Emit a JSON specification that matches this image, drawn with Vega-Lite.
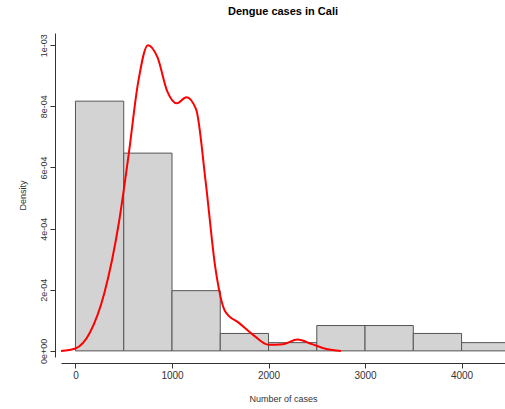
{
  "$schema": "https://vega.github.io/schema/vega-lite/v6.json",
  "width": 505,
  "height": 409,
  "autosize": {"type": "fit", "contains": "padding"},
  "background": "white",
  "padding": {"left": 18, "right": 0, "top": 6, "bottom": 6},
  "title": {"text": "Dengue cases in Cali", "fontSize": 11, "font": "Liberation Sans", "fontWeight": "bold", "color": "black", "offset": 16},
  "config": {"view": {"stroke": null}, "font": "Liberation Sans"},
  "layer": [
    {
      "data": {"values": [
        {"x0": 0, "x1": 500, "density": 0.000817, "base": 0},
        {"x0": 500, "x1": 1000, "density": 0.000647, "base": 0},
        {"x0": 1000, "x1": 1500, "density": 0.000197, "base": 0},
        {"x0": 1500, "x1": 2000, "density": 0.000057, "base": 0},
        {"x0": 2000, "x1": 2500, "density": 0.000027, "base": 0},
        {"x0": 2500, "x1": 3000, "density": 0.000083, "base": 0},
        {"x0": 3000, "x1": 3500, "density": 0.000083, "base": 0},
        {"x0": 3500, "x1": 4000, "density": 0.000057, "base": 0},
        {"x0": 4000, "x1": 4500, "density": 0.000027, "base": 0}
      ]},
      "mark": {"type": "rect", "fill": "#d3d3d3", "stroke": "#555555", "strokeWidth": 1, "clip": true},
      "encoding": {
        "x": {"field": "x0", "type": "quantitative",
          "scale": {"domain": [-150, 4450], "nice": false, "zero": false},
          "axis": {"title": "Number of cases", "values": [0, 1000, 2000, 3000, 4000], "format": "d", "grid": false, "domain": true, "domainColor": "#333", "tickColor": "#333", "labelColor": "#333", "titleColor": "#333", "titleFontWeight": "normal", "labelFontSize": 10, "titleFontSize": 9, "titlePadding": 14, "offset": 6}},
        "x2": {"field": "x1"},
        "y": {"field": "density", "type": "quantitative",
          "scale": {"domain": [-0.00002, 0.00104], "nice": false, "zero": false},
          "axis": {"title": "Density", "values": [0, 0.0002, 0.0004, 0.0006, 0.0008, 0.001], "grid": false, "domainColor": "#333", "tickColor": "#333", "labelColor": "#333", "titleColor": "#333", "titleFontWeight": "normal", "labelFontSize": 9, "titleFontSize": 9, "labelAngle": -90, "labelAlign": "center", "labelBaseline": "bottom", "titlePadding": 12, "offset": 6,
            "labelExpr": "datum.value == 0 ? '0e+00' : datum.value > 0.00099 ? '1e-03' : round(datum.value * 10000) + 'e-04'"}},
        "y2": {"field": "base"}
      }
    },
    {
      "data": {"values": [
        {"x": -150, "d": 0.0},
        {"x": 0, "d": 0.000008},
        {"x": 150, "d": 0.00006},
        {"x": 300, "d": 0.00019},
        {"x": 450, "d": 0.00042},
        {"x": 550, "d": 0.00064},
        {"x": 650, "d": 0.00088},
        {"x": 750, "d": 0.001},
        {"x": 850, "d": 0.00096},
        {"x": 950, "d": 0.00085},
        {"x": 1050, "d": 0.00081},
        {"x": 1150, "d": 0.00083},
        {"x": 1250, "d": 0.00079},
        {"x": 1350, "d": 0.00055},
        {"x": 1450, "d": 0.00027},
        {"x": 1550, "d": 0.00013},
        {"x": 1700, "d": 0.00009},
        {"x": 1850, "d": 0.00005},
        {"x": 2000, "d": 0.00002},
        {"x": 2150, "d": 0.000022},
        {"x": 2300, "d": 0.000037},
        {"x": 2450, "d": 0.000022},
        {"x": 2600, "d": 0.000006},
        {"x": 2750, "d": 0.0}
      ]},
      "mark": {"type": "line", "color": "red", "strokeWidth": 2, "interpolate": "monotone", "clip": true},
      "encoding": {
        "x": {"field": "x", "type": "quantitative"},
        "y": {"field": "d", "type": "quantitative"}
      }
    }
  ]
}
